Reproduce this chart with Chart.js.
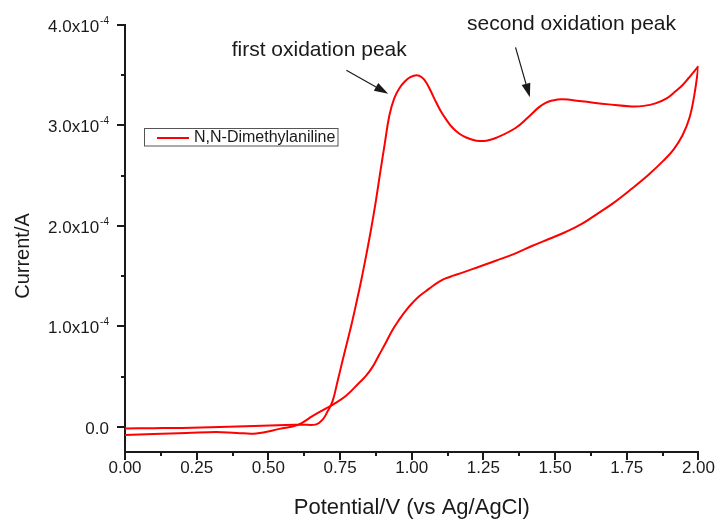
<!DOCTYPE html>
<html><head><meta charset="utf-8">
<script src="https://cdn.jsdelivr.net/npm/chart.js@4/dist/chart.umd.min.js"></script>
<style>html,body{margin:0;padding:0;background:#fff;}canvas{display:block;}</style>
</head><body>
<canvas id="c" width="721" height="519"></canvas>
<script>
// ---- data (current in units of 1e-4 A) ----
const seriesName = 'N,N-Dimethylaniline';
const potentialForward = [0, 0.10, 0.20, 0.33, 0.45, 0.56, 0.62, 0.667, 0.69, 0.707, 0.724, 0.741, 0.758, 0.774, 0.790, 0.807, 0.824, 0.842, 0.859, 0.875, 0.890, 0.906, 0.922, 0.939, 0.957, 0.975, 0.995, 1.017, 1.035, 1.05, 1.065, 1.08, 1.10, 1.12, 1.14, 1.165, 1.19, 1.215, 1.235, 1.26, 1.293, 1.362, 1.409, 1.443, 1.467, 1.49, 1.525, 1.593, 1.687, 1.767, 1.809, 1.85, 1.889, 1.92, 1.944, 1.965, 1.983, 2.0];
const currentForward = [-0.015, -0.013, -0.01, 0.0, 0.008, 0.018, 0.022, 0.025, 0.075, 0.157, 0.256, 0.45, 0.65, 0.835, 1.02, 1.235, 1.46, 1.72, 1.98, 2.25, 2.53, 2.82, 3.10, 3.27, 3.37, 3.435, 3.48, 3.50, 3.48, 3.43, 3.35, 3.26, 3.15, 3.06, 2.985, 2.92, 2.88, 2.855, 2.845, 2.848, 2.875, 2.975, 3.09, 3.18, 3.225, 3.248, 3.26, 3.24, 3.21, 3.19, 3.195, 3.22, 3.27, 3.34, 3.40, 3.47, 3.53, 3.59];
const potentialReverse = [2.0, 1.986, 1.969, 1.944, 1.913, 1.878, 1.826, 1.767, 1.704, 1.652, 1.593, 1.537, 1.478, 1.419, 1.36, 1.293, 1.235, 1.177, 1.145, 1.12, 1.096, 1.072, 1.049, 1.026, 1.003, 0.98, 0.957, 0.932, 0.910, 0.887, 0.864, 0.841, 0.817, 0.771, 0.724, 0.689, 0.655, 0.603, 0.539, 0.458, 0.389, 0.319, 0.215, 0.10, 0.0];
const currentReverse = [3.59, 3.31, 3.08, 2.90, 2.76, 2.65, 2.51, 2.37, 2.23, 2.13, 2.02, 1.94, 1.87, 1.80, 1.725, 1.653, 1.594, 1.535, 1.505, 1.48, 1.445, 1.40, 1.35, 1.30, 1.235, 1.16, 1.07, 0.96, 0.84, 0.72, 0.60, 0.51, 0.44, 0.31, 0.22, 0.165, 0.11, 0.02, -0.02, -0.065, -0.06, -0.05, -0.06, -0.07, -0.08];

const xTickValues = [0, 0.25, 0.5, 0.75, 1.0, 1.25, 1.5, 1.75, 2.0];
const xTickLabels = ['0.00', '0.25', '0.50', '0.75', '1.00', '1.25', '1.50', '1.75', '2.00'];
const xMinorTicks = [0.125, 0.375, 0.625, 0.875, 1.125, 1.375, 1.625, 1.875];
const yTickValues = [0, 1, 2, 3, 4];
const yTickLabels = ['0.0', '1.0x10', '2.0x10', '3.0x10', '4.0x10'];
const yTickExponents = ['', '-4', '-4', '-4', '-4'];
const yMinorTicks = [0.5, 1.5, 2.5, 3.5];
const xTitle = 'Potential/V (vs Ag/AgCl)';
const yTitle = 'Current/A';
const annotationTexts = ['first oxidation peak', 'second oxidation peak'];

const FONT = "'Liberation Sans', Arial, Helvetica, sans-serif";
const INK = '#1a1a1a';

const toPts = (xs, ys) => xs.map((v, i) => ({x: v, y: ys[i]}));

const decor = {
  id: 'decor',
  afterDraw(chart) {
    const {ctx, scales: {x, y}, chartArea: ca} = chart;
    ctx.save();
    ctx.strokeStyle = INK;
    ctx.fillStyle = INK;
    ctx.lineWidth = 2;
    // tick marks
    ctx.beginPath();
    xTickValues.forEach(v => { const p = Math.round(x.getPixelForValue(v)); ctx.moveTo(p, ca.bottom); ctx.lineTo(p, ca.bottom + 8); });
    xMinorTicks.forEach(v => { const p = Math.round(x.getPixelForValue(v)); ctx.moveTo(p, ca.bottom); ctx.lineTo(p, ca.bottom + 4); });
    yTickValues.forEach(v => { const p = Math.round(y.getPixelForValue(v)); ctx.moveTo(ca.left, p); ctx.lineTo(ca.left - 8, p); });
    yMinorTicks.forEach(v => { const p = Math.round(y.getPixelForValue(v)); ctx.moveTo(ca.left, p); ctx.lineTo(ca.left - 4, p); });
    ctx.stroke();

    // y tick labels with superscript exponent
    const rightEdge = ca.left - 16;
    yTickValues.forEach((v, i) => {
      const p = y.getPixelForValue(v);
      const exp = yTickExponents[i];
      ctx.font = '10px ' + FONT;
      const ew = exp ? ctx.measureText(exp).width : 0;
      ctx.textBaseline = 'middle';
      ctx.textAlign = 'right';
      if (exp) ctx.fillText(exp, rightEdge, p - 4);
      ctx.font = '17px ' + FONT;
      ctx.fillText(yTickLabels[i], rightEdge - ew - (exp ? 1 : 0), p + 2);
    });

    // y title
    ctx.save();
    ctx.translate(23, 256);
    ctx.rotate(-Math.PI / 2);
    ctx.font = '20px ' + FONT;
    ctx.textAlign = 'center';
    ctx.textBaseline = 'middle';
    ctx.fillText(yTitle, 0, 0);
    ctx.restore();

    // legend box
    ctx.lineWidth = 1;
    ctx.strokeStyle = '#555';
    ctx.strokeRect(144.5, 128.5, 193.5, 17.5);
    ctx.strokeStyle = '#ff0000';
    ctx.lineWidth = 2;
    ctx.beginPath(); ctx.moveTo(157, 138); ctx.lineTo(189, 138); ctx.stroke();
    ctx.font = '16px ' + FONT;
    ctx.textAlign = 'left';
    ctx.textBaseline = 'middle';
    ctx.fillStyle = INK;
    ctx.fillText(seriesName, 194, 138);

    // annotations
    const ann = [
      {text: annotationTexts[0], tx: 0.372, ty: 3.69, fx: 0.772, fy: 3.55, hx: 0.918, hy: 3.315},
      {text: annotationTexts[1], tx: 1.193, ty: 3.95, fx: 1.362, fy: 3.777, hx: 1.412, hy: 3.28}
    ];
    ann.forEach(a => {
      ctx.font = '21px ' + FONT;
      ctx.textAlign = 'left';
      ctx.textBaseline = 'alphabetic';
      ctx.fillStyle = INK;
      ctx.fillText(a.text, x.getPixelForValue(a.tx), y.getPixelForValue(a.ty));
      const x0 = x.getPixelForValue(a.fx), y0 = y.getPixelForValue(a.fy);
      const x1 = x.getPixelForValue(a.hx), y1 = y.getPixelForValue(a.hy);
      const ang = Math.atan2(y1 - y0, x1 - x0);
      const L = 14, W = 4.5;
      const bx = x1 - L * Math.cos(ang), by = y1 - L * Math.sin(ang);
      ctx.strokeStyle = INK; ctx.lineWidth = 1.2;
      ctx.beginPath(); ctx.moveTo(x0, y0); ctx.lineTo(bx, by); ctx.stroke();
      ctx.beginPath();
      ctx.moveTo(x1, y1);
      ctx.lineTo(bx + W * Math.sin(ang), by - W * Math.cos(ang));
      ctx.lineTo(bx - W * Math.sin(ang), by + W * Math.cos(ang));
      ctx.closePath(); ctx.fill();
    });
    ctx.restore();
  }
};

new Chart(document.getElementById('c'), {
  type: 'scatter',
  data: {
    datasets: [
      {label: seriesName, data: toPts(potentialForward, currentForward), showLine: true, borderColor: '#ff0000', borderWidth: 2, pointRadius: 0, tension: 0.4, fill: false},
      {label: seriesName + ' (reverse)', data: toPts(potentialReverse, currentReverse), showLine: true, borderColor: '#ff0000', borderWidth: 2, pointRadius: 0, tension: 0.4, fill: false}
    ]
  },
  options: {
    responsive: false,
    animation: false,
    devicePixelRatio: 1,
    layout: {padding: {top: 25, right: 21, left: 0, bottom: 0}},
    plugins: {legend: {display: false}, tooltip: {enabled: false}},
    scales: {
      x: {
        type: 'linear', min: 0, max: 2,
        afterFit: s => { s.height = 67; },
        afterBuildTicks: s => { s.ticks = xTickValues.map(v => ({value: v})); },
        grid: {display: false, tickLength: 0},
        border: {display: true, color: INK, width: 2},
        ticks: {color: INK, font: {family: FONT, size: 17}, padding: 6, maxRotation: 0, autoSkip: false,
          callback: (v) => { const i = xTickValues.indexOf(v); return i >= 0 ? xTickLabels[i] : ''; }},
        title: {display: true, text: xTitle, color: INK, font: {family: FONT, size: 22}, padding: {top: 0, bottom: -2}}
      },
      y: {
        type: 'linear', min: -0.25, max: 4,
        afterFit: s => { s.width = 125; },
        afterBuildTicks: s => { s.ticks = yTickValues.map(v => ({value: v})); },
        grid: {display: false},
        border: {display: true, color: INK, width: 2},
        ticks: {display: false}
      }
    }
  },
  plugins: [decor]
});
</script>
</body></html>
